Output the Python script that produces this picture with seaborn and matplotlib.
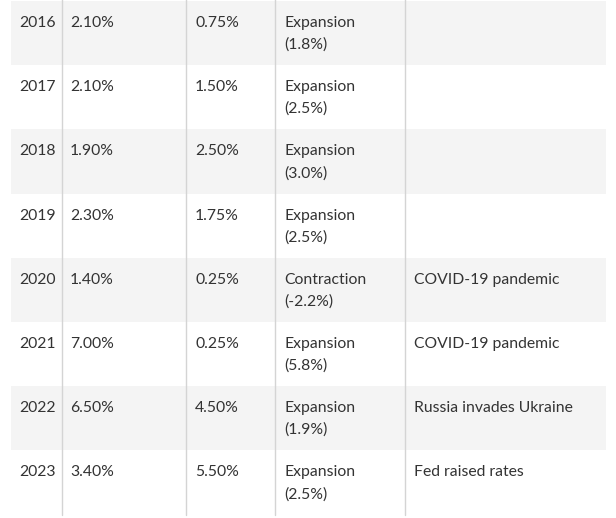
import matplotlib
matplotlib.use('Agg')
import matplotlib.pyplot as plt
import seaborn as sns

# Table data
years = ['2016', '2017', '2018', '2019', '2020', '2021', '2022', '2023']
inflation = ['2.10%', '2.10%', '1.90%', '2.30%', '1.40%', '7.00%', '6.50%', '3.40%']
fed_rate = ['0.75%', '1.50%', '2.50%', '1.75%', '0.25%', '0.25%', '4.50%', '5.50%']
economy = ['Expansion\n(1.8%)', 'Expansion\n(2.5%)', 'Expansion\n(3.0%)', 'Expansion\n(2.5%)',
           'Contraction\n(-2.2%)', 'Expansion\n(5.8%)', 'Expansion\n(1.9%)', 'Expansion\n(2.5%)']
events = ['', '', '', '', 'COVID-19 pandemic', 'COVID-19 pandemic',
          'Russia invades Ukraine', 'Fed raised rates']

sns.set_theme(style='white')
plt.rcParams['font.family'] = ['Lato', 'DejaVu Sans']

fig = plt.figure(figsize=(6.16, 5.18), dpi=100)
ax = fig.add_axes([0, 0, 1, 1])
row_h = 64.2
top_pad = 1.0
ax.set_xlim(0, 616)
ax.set_ylim((518 - top_pad) / row_h, -top_pad / row_h)
ax.axis('off')

# striped rows
for i in range(len(years)):
    if i % 2 == 0:
        ax.add_patch(plt.Rectangle((11, i), 595, 1, color='#f4f4f4', lw=0, zorder=0))

# column separators
for x in [62, 186, 275, 405]:
    ax.plot([x, x], [-1, len(years)], color='#d4d4d4', lw=1, zorder=1)

col_x = [19, 70, 195, 284, 414]
columns = [years, inflation, fed_rate, economy, events]
for cx, col in zip(col_x, columns):
    for i, val in enumerate(col):
        for k, line in enumerate(val.split('\n')):
            ax.text(cx, i + (26 + 22 * k) / row_h, line, ha='left', va='baseline',
                    fontsize=11.3, color='#333333')

plt.savefig('out.png', dpi=100)
plt.close()
